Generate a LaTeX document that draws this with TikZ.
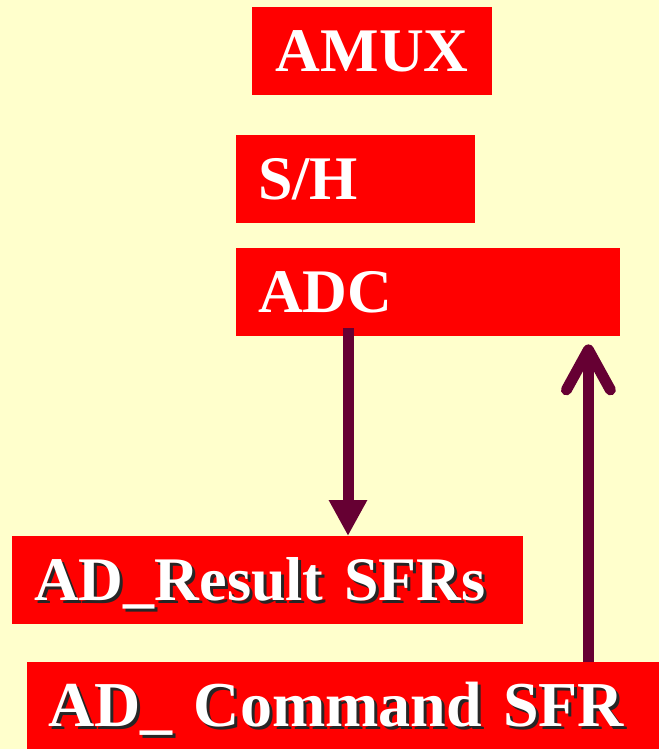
\documentclass[tikz,border=0pt]{standalone}
\usepackage{fontspec}
\setmainfont{Liberation Serif}
\usetikzlibrary{arrows.meta}

\definecolor{paper}{HTML}{FFFFCC}
\definecolor{boxred}{HTML}{FF0000}
\definecolor{wine}{HTML}{660033}

% white label with a dark drop shadow
\newcommand{\shadowed}[1]{\mbox{\rlap{\hspace{3pt}\raisebox{-3pt}{\color{black!85}#1}}#1}}

\tikzset{
  sfrbox/.style={fill=boxred, text=white, inner sep=0pt, anchor=north west,
    minimum height=88pt, text height=41pt, text depth=0pt,
    font=\bfseries\fontsize{62}{62}\selectfont},
  leftbox/.style={sfrbox, inner xsep=22pt, align=left},
  flow/.style={wine, line width=11pt}
}

\begin{document}
\begin{tikzpicture}[x=1pt,y=-1pt]
  \fill[paper] (0,0) rectangle (659,749);
  \useasboundingbox (0,0) rectangle (659,749);

  \node[sfrbox, minimum width=240pt] (amux) at (252,7) {AMUX};
  \node[leftbox, text width=195pt] (sh) at (236,135) {S/H};
  \node[leftbox, text width=340pt] (adc) at (236,248) {ADC};
  \node[leftbox, text width=467pt] (res) at (12,536) {\shadowed{AD\_Result SFRs}};
  \node[leftbox, text width=590pt, inner xsep=21pt,
    font=\bfseries\fontsize{64}{64}\selectfont] (cmd)
    at (27,662) {\shadowed{AD\_ Command SFR}};

  % result goes down, command goes up
  \draw[flow, -{Triangle[length=36pt,width=36pt]}, shorten <=-8pt]
    ([xshift=112pt]adc.south west) -- ([xshift=112pt]adc.south west |- res.north);
  \draw[flow, -{Straight Barb[length=40pt,width=44pt,round]}, shorten >=8pt]
    ([xshift=-32pt]adc.south east |- cmd.north) -- ([xshift=-32pt]adc.south east);
\end{tikzpicture}
\end{document}
